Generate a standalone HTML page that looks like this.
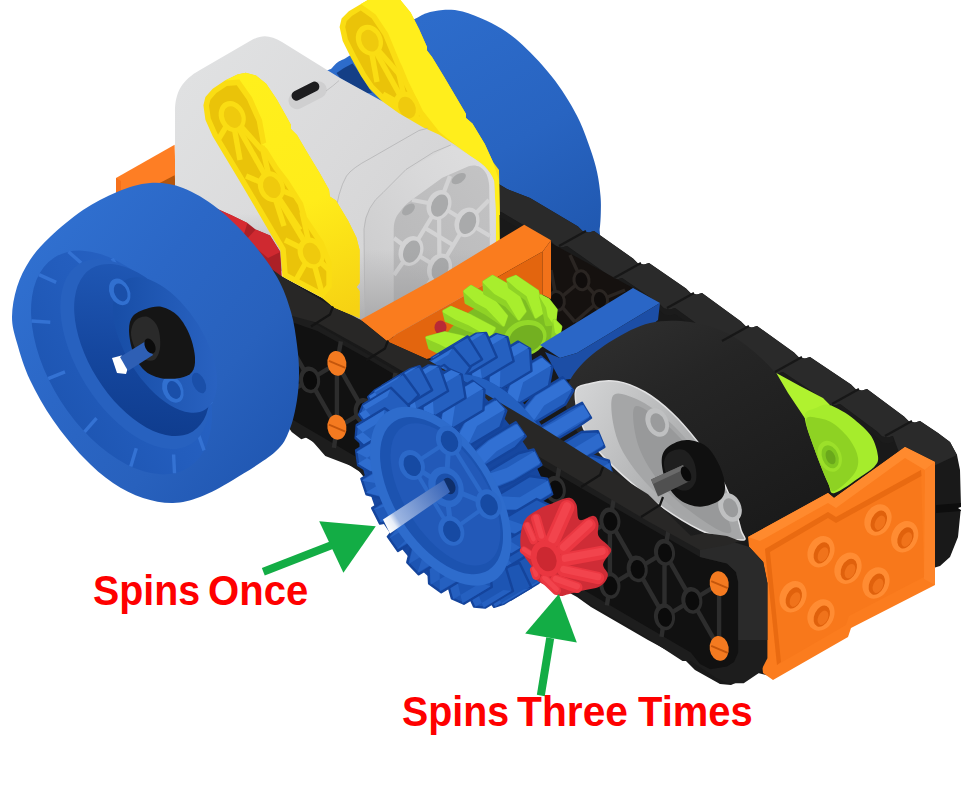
<!DOCTYPE html>
<html><head><meta charset="utf-8"><title>Spins</title>
<style>
html,body{margin:0;padding:0;background:#fff;}
body{width:971px;height:790px;overflow:hidden;position:relative;font-family:"Liberation Sans",sans-serif;}
svg{position:absolute;left:0;top:0;display:block;}
.lbl{position:absolute;margin:0;color:#fe0000;font-weight:bold;font-size:42px;line-height:42px;white-space:nowrap;letter-spacing:0;width:971px;height:42px;}
.lbl span{position:absolute;top:0;display:block;transform-origin:0 0;}
</style></head><body>
<svg width="971" height="790" viewBox="0 0 971 790">
<defs>
<linearGradient id="gbw" gradientUnits="userSpaceOnUse" x1="420" y1="20" x2="560" y2="260"><stop offset="0" stop-color="#2d6ccb"/><stop offset="0.55" stop-color="#2864c1"/><stop offset="1" stop-color="#2058b0"/></linearGradient>
<linearGradient id="gbr" gradientUnits="userSpaceOnUse" x1="200" y1="60" x2="460" y2="260"><stop offset="0" stop-color="#e0e1e2"/><stop offset="0.5" stop-color="#dadadb"/><stop offset="1" stop-color="#d2d2d3"/></linearGradient>
<linearGradient id="gbrsh" gradientUnits="userSpaceOnUse" x1="0" y1="150" x2="0" y2="290"><stop offset="0" stop-color="#9a9a9c00"/><stop offset="0.45" stop-color="#9a9a9c00"/><stop offset="1" stop-color="#8c8c8eaa"/></linearGradient>
<linearGradient id="grimb" gradientUnits="userSpaceOnUse" x1="364" y1="260" x2="496" y2="160"><stop offset="0" stop-color="#cdcdce"/><stop offset="0.6" stop-color="#d9d9da"/><stop offset="1" stop-color="#dededf"/></linearGradient>
<linearGradient id="gface" gradientUnits="userSpaceOnUse" x1="395" y1="260" x2="490" y2="170"><stop offset="0" stop-color="#b9b9ba"/><stop offset="1" stop-color="#c3c3c4"/></linearGradient>
<linearGradient id="gbrsh2" gradientUnits="userSpaceOnUse" x1="0" y1="215" x2="0" y2="330"><stop offset="0" stop-color="#8f8f9100"/><stop offset="0.3" stop-color="#8f8f9100"/><stop offset="1" stop-color="#8a8a8c99"/></linearGradient>
<linearGradient id="gy1" gradientUnits="userSpaceOnUse" x1="240" y1="80" x2="350" y2="310"><stop offset="0" stop-color="#fff01c"/><stop offset="0.55" stop-color="#ffec1a"/><stop offset="1" stop-color="#f6d213"/></linearGradient>
<linearGradient id="gtire" gradientUnits="userSpaceOnUse" x1="640" y1="320" x2="760" y2="540"><stop offset="0" stop-color="#2d2d2d"/><stop offset="0.3" stop-color="#252525"/><stop offset="1" stop-color="#1a1a1a"/></linearGradient>
<linearGradient id="grim" gradientUnits="userSpaceOnUse" x1="575" y1="400" x2="700" y2="470"><stop offset="0" stop-color="#d2d3d4"/><stop offset="0.35" stop-color="#c3c4c5"/><stop offset="1" stop-color="#a6a7a8"/></linearGradient>
<linearGradient id="gside" gradientUnits="userSpaceOnUse" x1="300" y1="330" x2="330" y2="470"><stop offset="0" stop-color="#232323"/><stop offset="1" stop-color="#181818"/></linearGradient>
<linearGradient id="gshaft" gradientUnits="userSpaceOnUse" x1="385" y1="526" x2="447" y2="487"><stop offset="0" stop-color="#ffffff"/><stop offset="0.12" stop-color="#e8eef8"/><stop offset="0.2" stop-color="#9db6e2"/><stop offset="1" stop-color="#3a66b8"/></linearGradient>
<linearGradient id="glw" gradientUnits="userSpaceOnUse" x1="40" y1="230" x2="300" y2="440"><stop offset="0" stop-color="#3070d0"/><stop offset="0.35" stop-color="#2b67c6"/><stop offset="0.7" stop-color="#2861bd"/><stop offset="1" stop-color="#2057b2"/></linearGradient>
<radialGradient id="glwf" gradientUnits="userSpaceOnUse" cx="121.5" cy="362.5" r="150" ><stop offset="0" stop-color="#2f6fd0"/><stop offset="0.78" stop-color="#2f6fd0"/><stop offset="1" stop-color="#2f6fd000"/></radialGradient>
<linearGradient id="gring" gradientUnits="userSpaceOnUse" x1="49" y1="362" x2="194" y2="362"><stop offset="0" stop-color="#1e56b3"/><stop offset="0.5" stop-color="#235dbd"/><stop offset="1" stop-color="#2762c3"/></linearGradient>
<linearGradient id="gcav" gradientUnits="userSpaceOnUse" x1="90" y1="430" x2="200" y2="290"><stop offset="0" stop-color="#0e3b8c"/><stop offset="0.5" stop-color="#15479f"/><stop offset="1" stop-color="#1f57b4"/></linearGradient>
<linearGradient id="ghub" gradientUnits="userSpaceOnUse" x1="120" y1="330" x2="210" y2="380"><stop offset="0" stop-color="#184ea7"/><stop offset="0.45" stop-color="#2058b4"/><stop offset="1" stop-color="#2a63c2"/></linearGradient>
</defs>
<path d="M318,82C315.0,70.0 328.5,71.6 331.8,68.3C335.1,65.0 335.3,64.0 338,62.1C340.7,60.2 340.8,61.1 347.8,56.8C354.8,52.4 369.1,42.2 380,36C390.9,29.8 405.5,23.6 413.2,19.8C420.9,16.0 421.4,14.8 426.3,13.2C431.2,11.5 436.8,10.2 442.8,9.9C448.9,9.6 455.4,9.7 462.6,11.5C469.8,13.3 478.9,17.2 486.1,20.5C493.3,23.8 499.8,27.5 505.9,31.5C511.9,35.5 516.9,39.8 522.4,44.7C527.9,49.7 533.3,55.2 538.8,61.2C544.3,67.2 550.3,74.4 555.3,81C560.2,87.6 564.4,93.9 568.5,100.7C572.6,107.5 576.3,113.9 580,122.1C583.7,130.3 587.7,141.4 590.6,149.8C593.5,158.2 595.6,165.1 597.2,172.8C598.9,180.5 599.9,189.3 600.5,195.9C601.1,202.5 600.9,206.9 600.8,212.4C600.7,217.9 600.3,224.2 599.7,228.8C599.1,233.4 602.0,234.5 597,240C592.0,245.5 586.2,258.3 570,262C553.8,265.7 525.0,269.0 500,262C475.0,255.0 445.0,240.3 420,220C395.0,199.7 367.0,163.0 350,140C333.0,117.0 321.0,94.0 318,82Z" fill="url(#gbw)" />
<polygon points="336.5,73 344,68 352.5,63.5 356,68 364,80 372,93 366,93 340,78" fill="#143f86" />
<polygon points="116,178 174.6,144.8 176,195 116,195" fill="#fe7e24" />
<polygon points="116,178 121,181 121,195 116,195" fill="#f5701a" />
<polygon points="152,187 174.6,175.3 176,190 160,193" fill="#b5560c" />
<polygon points="497,183 507,189 530,198 578,226.5 583,231.5 589,232.5 594,231 633,258.5 638,263.5 644,264.5 649,263 686,288.5 691,293.5 697,294.5 702,293 741,321.5 746,326.5 752,327.5 757,326 794,352.5 799,357.5 805,358.5 810,357 851,384.5 856,389.5 862,390.5 867,389 904,416.5 909,421.5 915,422.5 920,421 938,433 950,442 957,455 960,470 961,507 958,537 950,557 940,566 930,569 770,676 758,673 731,685 720,684 695,670 685,660 648,640 591,607 577,597 500,555 420,510 357,470 310,440 293,430 270,400 268,266.5 282.4,276.8 360,318 420,280 497,240" fill="#191919" />
<polygon points="497,183 507,189 530,198 578,226.5 583,231.5 589,232.5 594,231 633,258.5 638,263.5 644,264.5 649,263 686,288.5 691,293.5 697,294.5 702,293 741,321.5 746,326.5 752,327.5 757,326 794,352.5 799,357.5 805,358.5 810,357 851,384.5 856,389.5 862,390.5 867,389 904,416.5 909,421.5 915,422.5 920,421 938,433 950,442 957,455 925,470 900,455 893,436 888,437.5 882,436.5 877,431.5 840,404 835,405.5 829,404.5 824,399.5 783,372 778,373.5 772,372.5 767,367.5 730,341 725,342.5 719,341.5 714,336.5 675,308 670,309.5 664,308.5 659,303.5 622,278 617,279.5 611,278.5 606,273.5 567,246 562,247.5 556,246.5 551,241.5 503,213 480,204 470,198" fill="#2a2a2a" />
<polygon points="893,436 888,437.5 882,436.5 877,431.5 840,404 835,405.5 829,404.5 824,399.5 783,372 778,373.5 772,372.5 767,367.5 730,341 725,342.5 719,341.5 714,336.5 675,308 670,309.5 664,308.5 659,303.5 622,278 617,279.5 611,278.5 606,273.5 567,246 562,247.5 556,246.5 551,241.5 503,213 480,204 470,198 470,204 480,210 503,219 551,247.5 556,252.5 562,253.5 567,252 606,279.5 611,284.5 617,285.5 622,284 659,309.5 664,314.5 670,315.5 675,314 714,342.5 719,347.5 725,348.5 730,347 767,373.5 772,378.5 778,379.5 783,378 824,405.5 829,410.5 835,411.5 840,410 877,437.5 882,442.5 888,443.5 893,442" fill="#1b1b1b" />
<polygon points="551,243 633,288 553,337 551,299" fill="#15110f" />
<path d="M556.8,300.9 L581.5,280.3" fill="none" stroke="#2a2522" stroke-width="3.5"/>
<path d="M581.5,280.3 L600,300" fill="none" stroke="#2a2522" stroke-width="3.5"/>
<path d="M556.8,300.9 L575,322" fill="none" stroke="#2a2522" stroke-width="3.5"/>
<path d="M581.5,280.3 L570,255" fill="none" stroke="#2a2522" stroke-width="3.5"/>
<path d="M600,300 L575,322" fill="none" stroke="#2a2522" stroke-width="3.5"/>
<path d="M600,300 L625,290" fill="none" stroke="#2a2522" stroke-width="3.5"/>
<path d="M556.8,300.9 L551,270" fill="none" stroke="#2a2522" stroke-width="3.5"/>
<ellipse cx="581.5" cy="280.3" rx="9" ry="11" transform="rotate(-10 581.5 280.3)" fill="#2a2522" />
<ellipse cx="581.5" cy="280.3" rx="6" ry="8" transform="rotate(-10 581.5 280.3)" fill="#100d0c" />
<ellipse cx="556.8" cy="300.9" rx="9" ry="11" transform="rotate(-10 556.8 300.9)" fill="#2a2522" />
<ellipse cx="556.8" cy="300.9" rx="6" ry="8" transform="rotate(-10 556.8 300.9)" fill="#100d0c" />
<ellipse cx="600" cy="300" rx="9" ry="11" transform="rotate(-10 600 300)" fill="#2a2522" />
<ellipse cx="600" cy="300" rx="6" ry="8" transform="rotate(-10 600 300)" fill="#100d0c" />
<polygon points="339.6,27 342.7,41 351,57.7 361,76 369.4,88.6 381.8,101 390,112 435,140 470,160 497,215 500,215 499,170 493,162 484.8,144 472.4,123.6 466,118 466,114 456,97 443.6,76 432,57 427,50.5 427,47 419,29 410.6,12.4 402,2 398,-3 373,-3 361,4 348.8,11.3 341.6,18.5" fill="#fadd13" />
<polygon points="361,4 373,-3 398,-3 402,2 410.6,12.4 419,29 427,47 427,50.5 432,57 443.6,76 456,97 466,114 466,118 472.4,123.6 484.8,144 493,162 499,180 500,250 496,250 494,185 480,165 439.5,132 423,111 408.6,82 402,66 400,62 388,33 375.6,14.4" fill="#ffee1c" />
<polygon points="345.241,27.0372 347.925,39.1543 355.878,55.1564 365.71,73.1504 373.674,85.096 385.185,96.6068 420.05,116.923 418.225,113.729 418.074,113.446 403.674,84.4461 403.516,84.0973 396.992,68.2815 395.081,64.4597 394.918,64.1029 383.124,35.6017 371.585,18.2927 360.738,10.5661 352.208,15.6702 346.595,21.2827" fill="#eac309" />
<path d="M369.4,40.2 L406.5,107" fill="none" stroke="#fadd13" stroke-width="5.4"/>
<path d="M369.4,40.2 L377,82" fill="none" stroke="#fadd13" stroke-width="5.4"/>
<path d="M369.4,40.2 L399,74" fill="none" stroke="#fadd13" stroke-width="5.4"/>
<path d="M406.5,107 L383,94" fill="none" stroke="#fadd13" stroke-width="5.4"/>
<path d="M406.5,107 L398,70" fill="none" stroke="#fadd13" stroke-width="5.4"/>
<path d="M406.5,107 L423,124" fill="none" stroke="#fadd13" stroke-width="5.4"/>
<path d="M406.5,107 L392,112" fill="none" stroke="#fadd13" stroke-width="5.4"/>
<ellipse cx="369.4" cy="40.2" rx="13" ry="16" transform="rotate(-25 369.4 40.2)" fill="#fadd13" />
<ellipse cx="369.9" cy="40.7" rx="8.3" ry="11.3" transform="rotate(-25 369.9 40.7)" fill="#efca0d" />
<ellipse cx="406.5" cy="107" rx="13" ry="16" transform="rotate(-25 406.5 107)" fill="#fadd13" />
<ellipse cx="407" cy="107.5" rx="8.3" ry="11.3" transform="rotate(-25 407 107.5)" fill="#efca0d" />
<path d="M175,210 L175,112 C175,92 182,80 200,70 L250,41 C262,34 270,35 282,42 L340,78 L381.8,101 L398.9,113.2 L423.4,127.6 L439.3,134.8 L455.1,144.9 L471,156.5 C480,162 490,169 494.1,181 L495.8,212.4 L496,300 L393,335 L360,320 L280,270 Z" fill="url(#gbr)" />
<polygon points="175,150 300,150 300,285 280,270 175,210" fill="url(#gbrsh)" />
<path d="M364.8,320 L364,228.8 C364.5,218 366,214 369.8,209 C373,203 377,197 383,192.6 L419.2,163 L450.8,145 C460,149 466,153 471,156.5 C480,162 490,169 494.1,181 L495.8,212.4 L496,300 L400,340 Z" fill="url(#grimb)" />
<path d="M393.7,305 L393.7,228.8 C394,221 396,216 399.4,212.4 C403,207 407,203 412.6,199.2 L442.3,177.8 L468.6,166.2 C473,165 477,165.5 480,167 C483,169 485,171 486.7,174.5 C488,178 489,182 489.2,186 L490,262 L443,290 Z" fill="url(#gface)" />
<path d="M439,205 L467,222.3" fill="none" stroke="#d3d3d4" stroke-width="4.2"/>
<path d="M439,205 L411,251" fill="none" stroke="#d3d3d4" stroke-width="4.2"/>
<path d="M467,222.3 L439.5,268.3" fill="none" stroke="#d3d3d4" stroke-width="4.2"/>
<path d="M411,251 L439.5,268.3" fill="none" stroke="#d3d3d4" stroke-width="4.2"/>
<path d="M439,205 L412,200" fill="none" stroke="#d3d3d4" stroke-width="4.2"/>
<path d="M439,205 L450,176" fill="none" stroke="#d3d3d4" stroke-width="4.2"/>
<path d="M467,222.3 L489,200" fill="none" stroke="#d3d3d4" stroke-width="4.2"/>
<path d="M467,222.3 L490,236" fill="none" stroke="#d3d3d4" stroke-width="4.2"/>
<path d="M411,251 L394,238" fill="none" stroke="#d3d3d4" stroke-width="4.2"/>
<path d="M411,251 L394,275" fill="none" stroke="#d3d3d4" stroke-width="4.2"/>
<path d="M439.5,268.3 L455,284" fill="none" stroke="#d3d3d4" stroke-width="4.2"/>
<path d="M439.5,268.3 L420,296" fill="none" stroke="#d3d3d4" stroke-width="4.2"/>
<path d="M439,205 L439.5,268.3" fill="none" stroke="#d3d3d4" stroke-width="4.2"/>
<path d="M425,228 L453,245" fill="none" stroke="#d3d3d4" stroke-width="4.2"/>
<ellipse cx="439" cy="205" rx="12" ry="15.3" transform="rotate(22 439 205)" fill="#d3d3d4" />
<ellipse cx="439.6" cy="205.6" rx="8" ry="11.6" transform="rotate(22 439.6 205.6)" fill="#a9aaab" />
<ellipse cx="467" cy="222.3" rx="12" ry="15.3" transform="rotate(22 467 222.3)" fill="#d3d3d4" />
<ellipse cx="467.6" cy="222.9" rx="8" ry="11.6" transform="rotate(22 467.6 222.9)" fill="#a9aaab" />
<ellipse cx="411" cy="251" rx="12" ry="15.3" transform="rotate(22 411 251)" fill="#d3d3d4" />
<ellipse cx="411.6" cy="251.6" rx="8" ry="11.6" transform="rotate(22 411.6 251.6)" fill="#a9aaab" />
<ellipse cx="439.5" cy="268.3" rx="12" ry="15.3" transform="rotate(22 439.5 268.3)" fill="#d3d3d4" />
<ellipse cx="440.1" cy="268.9" rx="8" ry="11.6" transform="rotate(22 440.1 268.9)" fill="#a9aaab" />
<ellipse cx="458.7" cy="178.6" rx="8" ry="4.5" transform="rotate(-32 458.7 178.6)" fill="#a6a7a8" />
<ellipse cx="408.5" cy="209.5" rx="7.5" ry="4.5" transform="rotate(-40 408.5 209.5)" fill="#a6a7a8" />
<polygon points="330,215 497,215 497,300 400,340 360,320 330,305" fill="url(#gbrsh2)" />
<g transform="rotate(-27 306.4 93)"><rect x="286" y="87" width="41" height="17" rx="8.5" fill="#cfcfd0"/><rect x="291.4" y="85.9" width="30" height="10" rx="5" fill="#1d1d1f"/></g>
<path d="M326,91 Q333,86 339,80.6" fill="none" stroke="#b9b9ba" stroke-width="0.8"/>
<path d="M427.7,128.3 L419,130.5 L398.9,142 L370,158.6 Q352,168 346.5,176 Q338,190 334,222 L334,262" fill="none" stroke="#b4b4b5" stroke-width="0.8"/>
<path d="M450.8,145 L433.5,152.2 L406,169.5 L383,192.6 Q366,206 364,228.8 L364.8,310" fill="none" stroke="#b4b4b5" stroke-width="0.8"/>
<polygon points="205,203 212.4,206.8 231,215 247.4,223 255.6,229.4 270,235.6 280.3,252 282,280 260,290 205,260" fill="#ab2027" />
<polygon points="205,203 212.4,206.8 231,215 247.4,223 244,234 222,224 205,215" fill="#d62a31" />
<polygon points="255.6,229.4 270,235.6 280.3,252 268,258 246,240" fill="#cf2930" />
<polygon points="203.4,105.3 205.4,97 212.7,88.8 225,80.6 237.4,74.4 245.6,72.8 256,75.4 266.2,83.7 276.5,99 284.7,113.5 291,125 291,129 297,135 307.4,152.7 319.8,173.3 329,189.8 329.8,196.5 336,200.6 348.3,221 356.5,237.7 359.6,250 359.6,283 356.5,287 359.6,291 359.6,318 334,307.7 321.5,297.4 282.4,276.8 280.3,250 268,229.4 253.6,204.7 239,180 225,156.8 212.7,136.2 205.4,119.7" fill="#fadd13" />
<polygon points="225,80.6 237.4,74.4 245.6,72.8 256,75.4 266.2,83.7 276.5,99 284.7,113.5 291,125 291,129 297,135 307.4,152.7 319.8,173.3 329,189.8 329.8,196.5 336,200.6 348.3,221 356.5,237.7 359.6,250 359.6,283 356.5,287 359.6,291 359.6,318 334,307.7 323.6,297.4 331.8,287 331.8,262.4 323.6,241.8 307,217 303,202.7 288.6,180 278.6,167 267,148.6 262,144.4 266.2,142.4 262,119.7 251.8,97 239.4,79.6" fill="url(#gy1)" />
<polygon points="208.991,105.575 210.742,118.18 217.594,133.668 229.716,153.969 243.709,177.158 243.735,177.201 258.335,201.901 258.351,201.93 272.737,226.605 285.022,247.18 285.261,247.626 285.458,248.092 285.612,248.574 285.721,249.068 285.783,249.57 287.646,273.347 321.498,291.182 326.3,285.093 326.3,263.454 318.705,244.375 302.429,220.059 302.132,219.56 301.889,219.032 301.703,218.482 297.922,204.962 284.089,183.156 274.241,170.353 273.947,169.933 262.347,151.533 262.057,151.012 261.825,150.462 261.654,149.891 261.545,149.304 260.764,143.253 256.712,121.351 247.006,99.7496 236.708,85.3002 226.837,85.9857 216.338,92.9846 210.424,99.628" fill="#eac309" />
<path d="M232.2,116.6 L271.4,186.7" fill="none" stroke="#fadd13" stroke-width="5.4"/>
<path d="M271.4,186.7 L311.2,253" fill="none" stroke="#fadd13" stroke-width="5.4"/>
<path d="M232.2,116.6 L240,160" fill="none" stroke="#fadd13" stroke-width="5.4"/>
<path d="M232.2,116.6 L262,150" fill="none" stroke="#fadd13" stroke-width="5.4"/>
<path d="M271.4,186.7 L246,176" fill="none" stroke="#fadd13" stroke-width="5.4"/>
<path d="M271.4,186.7 L262,146" fill="none" stroke="#fadd13" stroke-width="5.4"/>
<path d="M271.4,186.7 L296,196" fill="none" stroke="#fadd13" stroke-width="5.4"/>
<path d="M271.4,186.7 L284,226" fill="none" stroke="#fadd13" stroke-width="5.4"/>
<path d="M311.2,253 L285,240" fill="none" stroke="#fadd13" stroke-width="5.4"/>
<path d="M311.2,253 L302,212" fill="none" stroke="#fadd13" stroke-width="5.4"/>
<path d="M311.2,253 L329,270" fill="none" stroke="#fadd13" stroke-width="5.4"/>
<path d="M311.2,253 L322,293" fill="none" stroke="#fadd13" stroke-width="5.4"/>
<path d="M311.2,253 L296,280" fill="none" stroke="#fadd13" stroke-width="5.4"/>
<path d="M271.4,186.7 L300,230" fill="none" stroke="#fadd13" stroke-width="5.4"/>
<path d="M232.2,116.6 L218,140" fill="none" stroke="#fadd13" stroke-width="5.4"/>
<ellipse cx="232.2" cy="116.6" rx="13" ry="16" transform="rotate(-25 232.2 116.6)" fill="#fadd13" />
<ellipse cx="232.7" cy="117.1" rx="8.3" ry="11.3" transform="rotate(-25 232.7 117.1)" fill="#efca0d" />
<ellipse cx="271.4" cy="186.7" rx="13" ry="16" transform="rotate(-25 271.4 186.7)" fill="#fadd13" />
<ellipse cx="271.9" cy="187.2" rx="8.3" ry="11.3" transform="rotate(-25 271.9 187.2)" fill="#efca0d" />
<ellipse cx="311.2" cy="253" rx="13" ry="16" transform="rotate(-25 311.2 253)" fill="#fadd13" />
<ellipse cx="311.7" cy="253.5" rx="8.3" ry="11.3" transform="rotate(-25 311.7 253.5)" fill="#efca0d" />
<polygon points="360.6,319.7 439,276.5 524.2,224.7 551,240.2 542.7,251.5 396.5,334 387.4,341.4" fill="#fa7c1e" />
<polygon points="387.4,341.4 396.5,334 542.7,251.5 542.7,300 500,340 426.5,358.9" fill="#e3650e" />
<polygon points="542.7,251.5 551,240.2 551,299 542.7,294.7" fill="#f2721a" />
<ellipse cx="440.5" cy="327.5" rx="6" ry="7" transform="rotate(0 440.5 327.5)" fill="#b82a35" />
<path d="M440,347C439.5,342.0 446.7,333.2 452,327C457.3,320.8 465.2,314.7 472,310C478.8,305.3 485.8,301.5 493,299C500.2,296.5 508.0,294.5 515,295C522.0,295.5 529.5,298.7 535,302C540.5,305.3 544.3,310.3 548,315C551.7,319.7 556.2,325.8 557,330C557.8,334.2 555.8,337.0 553,340C550.2,343.0 545.5,345.3 540,348C534.5,350.7 528.3,354.0 520,356C511.7,358.0 500.8,359.8 490,360C479.2,360.2 463.3,359.2 455,357C446.7,354.8 440.5,352.0 440,347Z" fill="#7dbd23" />
<polygon points="427,337.6 444.7,333 458.6,336 475,340 470,349 440,353 430,348" fill="#8fd326" stroke="#8fd326" stroke-width="3.5" stroke-linejoin="round"/>
<polygon points="427,337.6 444.7,333 458.6,336 475,340 470,349 445.698,346.217 440.198,343.467" fill="#a8ee2d" stroke="#a8ee2d" stroke-width="2.5" stroke-linejoin="round"/>
<polygon points="444,311.3 450.9,307.5 471,316 494.2,328.3 490,336 466.3,329 446.3,320.5" fill="#8fd326" stroke="#8fd326" stroke-width="3.5" stroke-linejoin="round"/>
<polygon points="444,311.3 450.9,307.5 471,316 494.2,328.3 490,336 467.71,323.503 456.71,318.828" fill="#a8ee2d" stroke="#a8ee2d" stroke-width="2.5" stroke-linejoin="round"/>
<polygon points="464.8,291.3 471,286.6 492.6,299 506.5,316 503.4,325 486.4,313.5 466.3,302.5" fill="#8fd326" stroke="#8fd326" stroke-width="3.5" stroke-linejoin="round"/>
<polygon points="464.8,291.3 471,286.6 492.6,299 506.5,316 503.4,325 487.013,307.604 475.958,301.554" fill="#a8ee2d" stroke="#a8ee2d" stroke-width="2.5" stroke-linejoin="round"/>
<polygon points="484.1,282 492.6,276.6 515.8,289.7 525,311.3 518.9,319 506.5,305.6 484.9,293.3" fill="#8fd326" stroke="#8fd326" stroke-width="3.5" stroke-linejoin="round"/>
<polygon points="484.1,282 492.6,276.6 515.8,289.7 525,311.3 518.9,319 506.862,299.634 494.982,292.869" fill="#a8ee2d" stroke="#a8ee2d" stroke-width="2.5" stroke-linejoin="round"/>
<polygon points="508,279.7 515.8,276.6 537.4,291.3 542,312.9 535.9,317 526.6,299 509.6,287" fill="#8fd326" stroke="#8fd326" stroke-width="3.5" stroke-linejoin="round"/>
<polygon points="508,279.7 515.8,276.6 537.4,291.3 542,312.9 535.9,317 527.399,295.104 518.049,288.504" fill="#a8ee2d" stroke="#a8ee2d" stroke-width="2.5" stroke-linejoin="round"/>
<polygon points="540.5,295.9 548.2,299.8 556,309.8 554.4,323.7 546.7,324.5 543.6,308" fill="#8fd326" stroke="#8fd326" stroke-width="3.5" stroke-linejoin="round"/>
<polygon points="540.5,295.9 548.2,299.8 556,309.8 554.4,323.7 548.89,316.103 547.185,307.028" fill="#a8ee2d" stroke="#a8ee2d" stroke-width="2.5" stroke-linejoin="round"/>
<polygon points="554.4,320.6 560.6,326.8 559,334.5 552.9,337.6" fill="#8fd326" stroke="#8fd326" stroke-width="3.5" stroke-linejoin="round"/>
<polygon points="554.4,320.6 560.6,326.8 559,334.5 556.121,332.124" fill="#a8ee2d" stroke="#a8ee2d" stroke-width="2.5" stroke-linejoin="round"/>
<ellipse cx="525" cy="338" rx="22" ry="17.5" transform="rotate(-20 525 338)" fill="#93d829" />
<ellipse cx="526" cy="339" rx="17.5" ry="13.5" transform="rotate(-20 526 339)" fill="#73b021" />
<polygon points="540,345 553,337 633,288 660,303 577,353 560,358" fill="#2a66c6" />
<polygon points="577,353 660,303 658,320 585,378 560,380 545,352 560,358" fill="#1c4ea6" />
<path d="M567,387C569.7,379.2 575.3,370.8 583,363C590.7,355.2 601.8,346.7 613,340C624.2,333.3 637.2,326.0 650,323C662.8,320.0 677.2,320.3 690,322C702.8,323.7 715.3,327.2 727,333C738.7,338.8 750.0,348.0 760,357C770.0,366.0 779.2,376.5 787,387C794.8,397.5 801.5,409.0 807,420C812.5,431.0 816.7,443.0 820,453C823.3,463.0 826.5,472.7 827,480C827.5,487.3 829.2,491.0 823,497C816.8,503.0 801.0,510.0 790,516C779.0,522.0 764.8,529.3 757,533C749.2,536.7 752.5,536.8 743,538C733.5,539.2 717.2,546.3 700,540C682.8,533.7 658.3,515.0 640,500C621.7,485.0 602.2,465.0 590,450C577.8,435.0 570.8,420.5 567,410C563.2,399.5 564.3,394.8 567,387Z" fill="url(#gtire)" />
<path d="M575.2,394C575.3,384.6 583.3,385.6 590.4,383.5C597.5,381.4 608.6,380.0 617.7,381.4C626.8,382.8 635.9,386.7 645,392C654.1,397.3 663.8,405.1 672.4,413.2C681.0,421.3 689.1,431.0 696.7,440.6C704.3,450.2 711.8,460.4 717.9,471C724.0,481.6 729.2,494.6 733.1,504.4C737.0,514.2 739.5,524.1 741,530C742.5,535.9 748.8,540.0 742,540C735.2,540.0 717.0,538.3 700,530C683.0,521.7 658.3,505.0 640,490C621.7,475.0 600.8,456.0 590,440C579.2,424.0 575.1,403.4 575.2,394Z" fill="url(#grim)" stroke="#e2e2e3" stroke-width="1.5"/>
<path d="M612,398C614.3,390.0 625.3,394.8 634,398C642.7,401.2 654.3,409.0 664,417C673.7,425.0 683.8,436.0 692,446C700.2,456.0 706.8,466.3 713,477C719.2,487.7 724.8,500.2 729,510C733.2,519.8 742.0,532.8 738,536C734.0,539.2 718.8,536.3 705,529C691.2,521.7 669.2,505.8 655,492C640.8,478.2 627.2,461.7 620,446C612.8,430.3 609.7,406.0 612,398Z" fill="#a5a6a7" />
<path d="M634,408C636.5,402.3 647.0,410.7 655,416C663.0,421.3 673.5,430.3 682,440C690.5,449.7 699.3,463.0 706,474C712.7,485.0 717.8,496.3 722,506C726.2,515.7 733.0,528.8 731,532C729.0,535.2 720.5,531.7 710,525C699.5,518.3 679.7,504.5 668,492C656.3,479.5 645.7,464.0 640,450C634.3,436.0 631.5,413.7 634,408Z" fill="#98999a" />
<ellipse cx="657.2" cy="422.4" rx="11" ry="15" transform="rotate(-25 657.2 422.4)" fill="#bfc0c1" />
<ellipse cx="657.8" cy="422.8" rx="6.8" ry="10" transform="rotate(-25 657.8 422.8)" fill="#9a9b9c" />
<ellipse cx="730" cy="507.4" rx="11" ry="15" transform="rotate(-25 730 507.4)" fill="#bfc0c1" />
<ellipse cx="730.6" cy="507.8" rx="6.8" ry="10" transform="rotate(-25 730.6 507.8)" fill="#9a9b9c" />
<path d="M661.7,460C662.0,453.9 664.1,450.0 668.3,446.7C672.5,443.4 680.3,440.0 686.7,440C693.1,440.0 701.2,442.2 706.7,446.7C712.2,451.1 717.0,460.0 720,466.7C723.0,473.4 725.0,481.1 725,486.7C725.0,492.2 724.2,496.7 720,500C715.8,503.3 706.7,506.7 700,506.7C693.3,506.7 685.5,503.9 680,500C674.5,496.1 669.8,490.0 666.7,483.3C663.7,476.6 661.4,466.1 661.7,460Z" fill="#101010" />
<path d="M664,462C664.5,458.0 666.7,454.0 670,452C673.3,450.0 680.0,448.3 684,450C688.0,451.7 692.0,457.0 694,462C696.0,467.0 697.0,475.3 696,480C695.0,484.7 691.3,488.7 688,490C684.7,491.3 679.5,490.3 676,488C672.5,485.7 669.0,480.3 667,476C665.0,471.7 663.5,466.0 664,462Z" fill="#1f1f1f" />
<polygon points="651,479.5 683,465 690,481 658,496.5" fill="#505050" />
<polygon points="651,479.5 683,465 685,469 653,484" fill="#6a6a6a" />
<ellipse cx="686" cy="474" rx="4.5" ry="8" transform="rotate(-25 686 474)" fill="#0a0a0a" />
<polygon points="776.3,373 800,386 823,398 830,405 815,416 804.7,418 788,393" fill="#b0f22f" />
<path d="M804.7,416.3C804.9,409.4 812.1,409.9 816,408C819.9,406.1 823.7,404.2 828,404.7C832.3,405.2 837.5,408.5 842,411C846.5,413.5 849.8,415.5 854.7,419.7C859.6,423.9 867.4,430.2 871.3,436.3C875.2,442.4 877.4,451.3 878,456.3C878.6,461.3 877.5,463.0 874.7,466.3C871.9,469.6 868.0,471.9 861.3,476.3C854.6,480.8 840.2,491.9 834.7,493C829.2,494.1 831.3,490.2 828,483C824.7,475.8 818.6,460.8 814.7,449.7C810.8,438.6 804.5,423.2 804.7,416.3Z" fill="#a6ec2c" />
<path d="M806,420C806.5,414.7 813.3,417.3 818,418C822.7,418.7 828.7,420.3 834,424C839.3,427.7 846.0,434.3 850,440C854.0,445.7 857.3,452.3 858,458C858.7,463.7 857.9,468.5 854,474C850.1,479.5 839.0,489.5 834.7,491C830.4,492.5 831.3,489.9 828,483C824.7,476.1 818.4,460.2 814.7,449.7C811.0,439.2 805.5,425.3 806,420Z" fill="#8ed223" />
<ellipse cx="829.7" cy="456.3" rx="11.5" ry="16" transform="rotate(-22 829.7 456.3)" fill="#9ce02a" />
<ellipse cx="830.2" cy="456.8" rx="8" ry="12" transform="rotate(-22 830.2 456.8)" fill="#80c620" />
<ellipse cx="830.6" cy="457.2" rx="4.5" ry="7.5" transform="rotate(-22 830.6 457.2)" fill="#6aa81b" />
<path d="M586,231 L559,246" fill="none" stroke="#171717" stroke-width="2.2"/>
<path d="M641,263 L614,278" fill="none" stroke="#171717" stroke-width="2.2"/>
<path d="M694,293 L667,308" fill="none" stroke="#171717" stroke-width="2.2"/>
<path d="M749,326 L722,341" fill="none" stroke="#171717" stroke-width="2.2"/>
<path d="M802,357 L775,372" fill="none" stroke="#171717" stroke-width="2.2"/>
<path d="M859,389 L832,404" fill="none" stroke="#171717" stroke-width="2.2"/>
<path d="M912,421 L885,436" fill="none" stroke="#171717" stroke-width="2.2"/>
<g transform="rotate(-32.2 497.7 463.7)"><ellipse cx="497.7" cy="463.7" rx="58" ry="104" fill="#1647a0"/></g>
<polygon points="582.041,402.833 568.8,409.804 538.746,427.862 548.613,444.283 578.667,426.225 591.038,417.806" fill="#235dbd" stroke="#14449c" stroke-width="2.4" stroke-linejoin="round"/>
<polygon points="547.479,442.177 562.071,432.667 589.978,415.899 583.228,404.665 555.321,421.433 540.074,429.852" fill="#306ed1" />
<polygon points="597.864,431.287 581.559,431.937 551.505,449.995 558.696,467.264 576.513,463.8 604.42,447.032" fill="#215bba" stroke="#14449c" stroke-width="2.4" stroke-linejoin="round"/>
<polygon points="557.92,465.099 575.773,461.827 603.68,445.059 598.761,433.246 570.854,450.014 552.523,452.139" fill="#2d6acc" />
<polygon points="562.519,377.297 534.612,394.065 523.19,408.17 535.06,422.627 565.114,404.569 573.343,390.478" fill="#245fbf" stroke="#14449c" stroke-width="2.4" stroke-linejoin="round"/>
<polygon points="533.646,420.722 544.128,405.534 572.035,388.766 563.914,378.877 536.007,395.645 524.737,409.872" fill="#3271d4" />
<polygon points="540.628,356.418 512.721,373.187 505.896,392.263 518.962,403.769 549.015,385.711 552.542,366.909" fill="#2560c0" stroke="#14449c" stroke-width="2.4" stroke-linejoin="round"/>
<polygon points="517.363,402.195 523.167,382.277 551.074,365.509 542.136,357.638 514.229,374.406 507.557,393.56" fill="#3373d6" />
<polygon points="590.652,455.005 560.598,473.063 564.623,490.001 584.671,492.93 612.578,476.162 608.908,460.718" fill="#2059b8" stroke="#14449c" stroke-width="2.4" stroke-linejoin="round"/>
<polygon points="564.257,487.926 584.301,491.027 612.209,474.258 609.455,462.671 581.548,479.44 561.237,475.213" fill="#2a67c8" />
<polygon points="517.86,341.62 489.953,358.389 488.044,381.225 501.414,388.995 531.468,370.937 530.051,348.705" fill="#2560c0" stroke="#14449c" stroke-width="2.4" stroke-linejoin="round"/>
<polygon points="499.74,387.86 500.617,364.481 528.524,347.713 519.378,342.397 491.471,359.165 489.705,382.028" fill="#3373d6" />
<polygon points="595.458,477.434 565.404,495.492 565.988,510.946 587.047,519.981 614.954,503.213 614.422,489.123" fill="#1f58b6" stroke="#14449c" stroke-width="2.4" stroke-linejoin="round"/>
<polygon points="566.059,509.101 587.074,518.276 614.981,501.508 614.582,490.936 586.675,507.705 565.62,497.503" fill="#2865c5" />
<polygon points="595.65,497.697 565.596,515.755 562.7,528.671 583.482,543.108 611.389,526.34 614.029,514.564" fill="#1e57b5" stroke="#14449c" stroke-width="2.4" stroke-linejoin="round"/>
<polygon points="563.201,527.183 583.903,541.718 611.81,524.95 613.791,516.115 585.884,532.883 565.375,517.49" fill="#2763c4" />
<polygon points="495.766,333.911 467.859,350.679 470.85,375.806 483.613,379.313 513.667,361.255 507.403,337.108" fill="#2560c0" stroke="#14449c" stroke-width="2.4" stroke-linejoin="round"/>
<polygon points="481.978,378.694 478.015,353.359 505.922,336.591 497.191,334.192 469.284,350.96 472.399,376.062" fill="#3373d6" />
<polygon points="486.142,332.907 475.851,333.816 447.944,350.584 455.486,376.378 466.772,375.381 496.826,357.323" fill="#2560c0" stroke="#14449c" stroke-width="2.4" stroke-linejoin="round"/>
<polygon points="465.287,375.32 456.9,349.668 484.807,332.9 477.086,333.582 449.179,350.35 456.816,376.068" fill="#3272d5" />
<polygon points="591.215,514.413 561.161,532.471 554.982,541.968 574.216,560.736 602.123,543.968 607.757,535.308" fill="#1e56b4" stroke="#14449c" stroke-width="2.4" stroke-linejoin="round"/>
<polygon points="555.88,540.939 575.003,559.756 602.91,542.988 607.137,536.491 579.23,553.259 560.518,533.81" fill="#2762c2" />
<polygon points="467.718,336.389 459.474,341.342 431.567,358.11 442.998,382.9 452.039,377.468 482.093,359.41" fill="#245fbf" stroke="#14449c" stroke-width="2.4" stroke-linejoin="round"/>
<polygon points="450.806,377.97 438.712,353.661 466.619,336.893 460.435,340.609 432.528,357.377 444.02,382.047" fill="#3272d4" />
<polygon points="582.456,526.441 573.415,531.874 543.361,549.932 559.883,571.663 587.79,554.895 596.033,549.942" fill="#1e56b4" stroke="#14449c" stroke-width="2.4" stroke-linejoin="round"/>
<polygon points="544.594,549.43 560.981,571.16 588.888,554.391 595.073,550.675 567.166,567.443 551.38,545.353" fill="#2661c2" />
<polygon points="453.384,347.316 425.477,364.084 419.843,372.744 434.239,394.929 464.292,376.871 470.471,367.374" fill="#245fbf" stroke="#14449c" stroke-width="2.4" stroke-linejoin="round"/>
<polygon points="439.52,386.461 424.691,365.064 452.598,348.296 448.371,354.793 420.464,371.562 434.882,393.59" fill="#3171d4" />
<polygon points="569.968,532.964 558.681,533.961 528.628,552.019 541.458,575.145 551.749,574.236 579.656,557.468" fill="#1d55b3" stroke="#14449c" stroke-width="2.4" stroke-linejoin="round"/>
<polygon points="530.113,552.08 542.793,575.152 570.7,558.384 578.421,557.702 550.514,574.47 538.584,551.332" fill="#2661c1" />
<polygon points="444.119,364.944 416.212,381.712 413.571,393.488 429.804,411.645 459.858,393.587 462.754,380.671" fill="#245ebe" stroke="#14449c" stroke-width="2.4" stroke-linejoin="round"/>
<polygon points="432.199,400.217 415.791,383.102 443.698,366.334 441.717,375.169 413.81,391.937 430.025,409.91" fill="#3170d2" />
<polygon points="541.841,530.029 511.787,548.087 520.197,570.944 531.835,574.141 559.742,557.373 554.604,533.535" fill="#1d55b3" stroke="#14449c" stroke-width="2.4" stroke-linejoin="round"/>
<polygon points="513.422,548.706 521.679,571.461 549.586,554.693 558.317,557.092 530.41,573.86 523.001,551.338" fill="#2560c0" />
<polygon points="440.553,388.071 412.646,404.839 413.179,418.929 429.996,431.908 460.05,413.849 459.466,398.396" fill="#235dbd" stroke="#14449c" stroke-width="2.4" stroke-linejoin="round"/>
<polygon points="429.341,418.299 412.619,406.544 440.526,389.776 440.926,400.347 413.019,417.116 429.78,429.897" fill="#306ed1" />
<polygon points="524.04,520.347 493.986,538.405 497.55,559.347 509.741,566.432 537.648,549.664 537.41,528.117" fill="#1d55b3" stroke="#14449c" stroke-width="2.4" stroke-linejoin="round"/>
<polygon points="495.66,539.54 499.076,560.339 526.983,543.571 536.129,548.887 508.222,565.655 505.695,545.372" fill="#2560c0" />
<polygon points="442.93,415.122 415.023,431.89 418.693,447.334 434.802,454.337 464.856,436.279 460.831,419.341" fill="#225cbb" stroke="#14449c" stroke-width="2.4" stroke-linejoin="round"/>
<polygon points="431.143,439.474 415.392,433.794 443.299,417.026 446.052,428.612 418.145,445.381 434.163,452.187" fill="#2e6cce" />
<polygon points="506.492,505.573 476.438,523.631 475.059,541.143 486.972,551.634 514.879,534.865 519.558,517.078" fill="#1d55b3" stroke="#14449c" stroke-width="2.4" stroke-linejoin="round"/>
<polygon points="478.037,525.205 476.526,542.543 504.433,525.775 513.371,533.646 485.464,550.414 487.843,533.84" fill="#2560c0" />
<polygon points="466.757,442.078 451.087,444.252 423.18,461.02 429.737,476.765 443.895,477.405 473.948,459.346" fill="#215ab9" stroke="#14449c" stroke-width="2.4" stroke-linejoin="round"/>
<polygon points="437.48,462.301 423.92,462.993 451.827,446.225 456.746,458.038 428.839,474.806 442.877,475.261" fill="#2b69ca" />
<polygon points="490.393,486.715 460.34,504.773 454.257,517.574 465.081,530.755 492.988,513.987 502.264,501.171" fill="#1e56b4" stroke="#14449c" stroke-width="2.4" stroke-linejoin="round"/>
<polygon points="461.754,506.678 455.566,519.286 483.473,502.518 491.593,512.407 463.686,529.175 470.663,517.528" fill="#2662c2" />
<polygon points="476.841,465.058 446.787,483.117 436.562,490.246 445.559,505.219 456.654,499.538 486.708,481.48" fill="#1f58b6" stroke="#14449c" stroke-width="2.4" stroke-linejoin="round"/>
<polygon points="447.921,485.223 437.623,492.153 465.53,475.385 472.28,486.619 444.373,503.387 455.326,497.548" fill="#2865c5" />
<g transform="rotate(-32.2 497.7 463.7)"><ellipse cx="497.7" cy="463.7" rx="55" ry="99.9" fill="#2460c0"/></g>
<path d="M936,505 L961,503 L961,511 L936,513 Z" fill="#0d0d0d" />
<polygon points="958,508 964,506 964,512" fill="#ffffff" />
<polygon points="748,537 828,493 834,498 905,447 935,462 935,585 851,628 848,637 773,680 763,673" fill="#fb7c1e" />
<polygon points="748,537 828,493 834,498 905,447 935,462 925,470 905,458 836,508 828,503 760,541" fill="#ff8a2e" />
<polygon points="925,470 935,462 935,585 924,579" fill="#fd8328" />
<polygon points="765,549 828,512 836,517 921,470 924,577 849,616 846,625 777,665" fill="#f8781b" />
<polygon points="765,549 828,512 836,517 921,470 921.5,476 836,523 828,518 770,552 781,662 777,665" fill="#e96a11" />
<ellipse cx="821" cy="551.7" rx="13" ry="16.2" transform="rotate(25 821 551.7)" fill="#ff8c33" />
<ellipse cx="821.8" cy="552.9" rx="7.4" ry="11.2" transform="rotate(25 821.8 552.9)" fill="#e0610c" />
<ellipse cx="823" cy="554.5" rx="4.8" ry="7.6" transform="rotate(25 823 554.5)" fill="#f0731b" />
<ellipse cx="878" cy="520" rx="13" ry="16.2" transform="rotate(25 878 520)" fill="#ff8c33" />
<ellipse cx="878.8" cy="521.2" rx="7.4" ry="11.2" transform="rotate(25 878.8 521.2)" fill="#e0610c" />
<ellipse cx="880" cy="522.8" rx="4.8" ry="7.6" transform="rotate(25 880 522.8)" fill="#f0731b" />
<ellipse cx="904.7" cy="536.7" rx="13" ry="16.2" transform="rotate(25 904.7 536.7)" fill="#ff8c33" />
<ellipse cx="905.5" cy="537.9" rx="7.4" ry="11.2" transform="rotate(25 905.5 537.9)" fill="#e0610c" />
<ellipse cx="906.7" cy="539.5" rx="4.8" ry="7.6" transform="rotate(25 906.7 539.5)" fill="#f0731b" />
<ellipse cx="848" cy="568.3" rx="13" ry="16.2" transform="rotate(25 848 568.3)" fill="#ff8c33" />
<ellipse cx="848.8" cy="569.5" rx="7.4" ry="11.2" transform="rotate(25 848.8 569.5)" fill="#e0610c" />
<ellipse cx="850" cy="571.1" rx="4.8" ry="7.6" transform="rotate(25 850 571.1)" fill="#f0731b" />
<ellipse cx="876" cy="583" rx="13" ry="16.2" transform="rotate(25 876 583)" fill="#ff8c33" />
<ellipse cx="876.8" cy="584.2" rx="7.4" ry="11.2" transform="rotate(25 876.8 584.2)" fill="#e0610c" />
<ellipse cx="878" cy="585.8" rx="4.8" ry="7.6" transform="rotate(25 878 585.8)" fill="#f0731b" />
<ellipse cx="793" cy="596.7" rx="13" ry="16.2" transform="rotate(25 793 596.7)" fill="#ff8c33" />
<ellipse cx="793.8" cy="597.9" rx="7.4" ry="11.2" transform="rotate(25 793.8 597.9)" fill="#e0610c" />
<ellipse cx="795" cy="599.5" rx="4.8" ry="7.6" transform="rotate(25 795 599.5)" fill="#f0731b" />
<ellipse cx="821" cy="615" rx="13" ry="16.2" transform="rotate(25 821 615)" fill="#ff8c33" />
<ellipse cx="821.8" cy="616.2" rx="7.4" ry="11.2" transform="rotate(25 821.8 616.2)" fill="#e0610c" />
<ellipse cx="823" cy="617.8" rx="4.8" ry="7.6" transform="rotate(25 823 617.8)" fill="#f0731b" />
<polygon points="268,270 290.6,309.311 700,548.085 727,540 749.3,547 763.2,562 767.4,583 767.4,658.2 760.4,672 743.7,683.2 727,683.2 715.9,677.7 690.8,661 682.5,661 635.2,630.3 582.3,599.7 576.7,591.4 500,555 420,510 366.2,480 356.6,468 325.3,456 308.5,436.8 301.3,439.2 291.7,432 270,400" fill="#1d1d1d" />
<polygon points="280,318 317.4,331 364.7,357 426,393 540,464.205 700,557.085 727,563.5 736,572 738.2,582 738.2,652.6 734,662 727,666.5 710.3,669.3 700,664 690.8,652.6 300,424.109 280,412.369" fill="#111111" />
<path d="M282.3,331.9 L282.3,396.3" fill="none" stroke="#2d2d2d" stroke-width="4.4"/>
<path d="M309.6,379.8 L282.3,331.9" fill="none" stroke="#2d2d2d" stroke-width="4.4"/>
<path d="M309.6,379.8 L336.9,363.4" fill="none" stroke="#2d2d2d" stroke-width="4.4"/>
<path d="M309.6,379.8 L282.3,396.3" fill="none" stroke="#2d2d2d" stroke-width="4.4"/>
<path d="M309.6,379.8 L336.9,427.8" fill="none" stroke="#2d2d2d" stroke-width="4.4"/>
<path d="M282.3,331.9 L286.3,309.9" fill="none" stroke="#2d2d2d" stroke-width="4.4"/>
<path d="M282.3,396.3 L279.3,416.3" fill="none" stroke="#2d2d2d" stroke-width="4.4"/>
<path d="M336.9,363.4 L336.9,427.8" fill="none" stroke="#2d2d2d" stroke-width="4.4"/>
<path d="M364.2,411.3 L336.9,363.4" fill="none" stroke="#2d2d2d" stroke-width="4.4"/>
<path d="M364.2,411.3 L391.5,394.9" fill="none" stroke="#2d2d2d" stroke-width="4.4"/>
<path d="M364.2,411.3 L336.9,427.8" fill="none" stroke="#2d2d2d" stroke-width="4.4"/>
<path d="M364.2,411.3 L391.5,459.3" fill="none" stroke="#2d2d2d" stroke-width="4.4"/>
<path d="M336.9,363.4 L340.9,341.4" fill="none" stroke="#2d2d2d" stroke-width="4.4"/>
<path d="M336.9,427.8 L333.9,447.8" fill="none" stroke="#2d2d2d" stroke-width="4.4"/>
<path d="M391.5,394.9 L391.5,459.3" fill="none" stroke="#2d2d2d" stroke-width="4.4"/>
<path d="M418.8,442.8 L391.5,394.9" fill="none" stroke="#2d2d2d" stroke-width="4.4"/>
<path d="M418.8,442.8 L446.1,426.4" fill="none" stroke="#2d2d2d" stroke-width="4.4"/>
<path d="M418.8,442.8 L391.5,459.3" fill="none" stroke="#2d2d2d" stroke-width="4.4"/>
<path d="M418.8,442.8 L446.1,490.8" fill="none" stroke="#2d2d2d" stroke-width="4.4"/>
<path d="M391.5,394.9 L395.5,372.9" fill="none" stroke="#2d2d2d" stroke-width="4.4"/>
<path d="M391.5,459.3 L388.5,479.3" fill="none" stroke="#2d2d2d" stroke-width="4.4"/>
<path d="M446.1,426.4 L446.1,490.8" fill="none" stroke="#2d2d2d" stroke-width="4.4"/>
<path d="M473.4,474.3 L446.1,426.4" fill="none" stroke="#2d2d2d" stroke-width="4.4"/>
<path d="M473.4,474.3 L500.7,457.9" fill="none" stroke="#2d2d2d" stroke-width="4.4"/>
<path d="M473.4,474.3 L446.1,490.8" fill="none" stroke="#2d2d2d" stroke-width="4.4"/>
<path d="M473.4,474.3 L500.7,522.3" fill="none" stroke="#2d2d2d" stroke-width="4.4"/>
<path d="M446.1,426.4 L450.1,404.4" fill="none" stroke="#2d2d2d" stroke-width="4.4"/>
<path d="M446.1,490.8 L443.1,510.8" fill="none" stroke="#2d2d2d" stroke-width="4.4"/>
<path d="M500.7,457.9 L500.7,522.3" fill="none" stroke="#2d2d2d" stroke-width="4.4"/>
<path d="M528.0,505.8 L500.7,457.9" fill="none" stroke="#2d2d2d" stroke-width="4.4"/>
<path d="M528.0,505.8 L555.3,489.4" fill="none" stroke="#2d2d2d" stroke-width="4.4"/>
<path d="M528.0,505.8 L500.7,522.3" fill="none" stroke="#2d2d2d" stroke-width="4.4"/>
<path d="M528.0,505.8 L555.3,553.8" fill="none" stroke="#2d2d2d" stroke-width="4.4"/>
<path d="M500.7,457.9 L504.7,435.9" fill="none" stroke="#2d2d2d" stroke-width="4.4"/>
<path d="M500.7,522.3 L497.7,542.3" fill="none" stroke="#2d2d2d" stroke-width="4.4"/>
<path d="M555.3,489.4 L555.3,553.8" fill="none" stroke="#2d2d2d" stroke-width="4.4"/>
<path d="M582.6,537.4 L555.3,489.4" fill="none" stroke="#2d2d2d" stroke-width="4.4"/>
<path d="M582.6,537.4 L609.9,520.9" fill="none" stroke="#2d2d2d" stroke-width="4.4"/>
<path d="M582.6,537.4 L555.3,553.8" fill="none" stroke="#2d2d2d" stroke-width="4.4"/>
<path d="M582.6,537.4 L609.9,585.3" fill="none" stroke="#2d2d2d" stroke-width="4.4"/>
<path d="M555.3,489.4 L559.3,467.4" fill="none" stroke="#2d2d2d" stroke-width="4.4"/>
<path d="M555.3,553.8 L552.3,573.8" fill="none" stroke="#2d2d2d" stroke-width="4.4"/>
<path d="M609.9,520.9 L609.9,585.3" fill="none" stroke="#2d2d2d" stroke-width="4.4"/>
<path d="M637.2,568.9 L609.9,520.9" fill="none" stroke="#2d2d2d" stroke-width="4.4"/>
<path d="M637.2,568.9 L664.5,552.4" fill="none" stroke="#2d2d2d" stroke-width="4.4"/>
<path d="M637.2,568.9 L609.9,585.3" fill="none" stroke="#2d2d2d" stroke-width="4.4"/>
<path d="M637.2,568.9 L664.5,616.8" fill="none" stroke="#2d2d2d" stroke-width="4.4"/>
<path d="M609.9,520.9 L613.9,498.9" fill="none" stroke="#2d2d2d" stroke-width="4.4"/>
<path d="M609.9,585.3 L606.9,605.3" fill="none" stroke="#2d2d2d" stroke-width="4.4"/>
<path d="M664.5,552.4 L664.5,616.8" fill="none" stroke="#2d2d2d" stroke-width="4.4"/>
<path d="M691.8,600.4 L664.5,552.4" fill="none" stroke="#2d2d2d" stroke-width="4.4"/>
<path d="M691.8,600.4 L719.1,583.9" fill="none" stroke="#2d2d2d" stroke-width="4.4"/>
<path d="M691.8,600.4 L664.5,616.8" fill="none" stroke="#2d2d2d" stroke-width="4.4"/>
<path d="M691.8,600.4 L719.1,648.3" fill="none" stroke="#2d2d2d" stroke-width="4.4"/>
<path d="M664.5,552.4 L668.5,530.4" fill="none" stroke="#2d2d2d" stroke-width="4.4"/>
<path d="M664.5,616.8 L661.5,636.8" fill="none" stroke="#2d2d2d" stroke-width="4.4"/>
<path d="M719.1,583.9 L719.1,648.3" fill="none" stroke="#2d2d2d" stroke-width="4.4"/>
<ellipse cx="282.3" cy="331.9" rx="10.5" ry="13.5" transform="rotate(-8 282.3 331.9)" fill="#2d2d2d" />
<ellipse cx="282.8" cy="332.4" rx="7" ry="9.5" transform="rotate(-8 282.8 332.4)" fill="#0b0b0b" />
<ellipse cx="282.3" cy="396.3" rx="10.5" ry="13.5" transform="rotate(-8 282.3 396.3)" fill="#2d2d2d" />
<ellipse cx="282.8" cy="396.8" rx="7" ry="9.5" transform="rotate(-8 282.8 396.8)" fill="#0b0b0b" />
<ellipse cx="309.6" cy="379.85" rx="10.5" ry="13.5" transform="rotate(-8 309.6 379.85)" fill="#2d2d2d" />
<ellipse cx="310.1" cy="380.35" rx="7" ry="9.5" transform="rotate(-8 310.1 380.35)" fill="#0b0b0b" />
<ellipse cx="364.2" cy="411.35" rx="10.5" ry="13.5" transform="rotate(-8 364.2 411.35)" fill="#2d2d2d" />
<ellipse cx="364.7" cy="411.85" rx="7" ry="9.5" transform="rotate(-8 364.7 411.85)" fill="#0b0b0b" />
<ellipse cx="391.5" cy="394.9" rx="10.5" ry="13.5" transform="rotate(-8 391.5 394.9)" fill="#2d2d2d" />
<ellipse cx="392" cy="395.4" rx="7" ry="9.5" transform="rotate(-8 392 395.4)" fill="#0b0b0b" />
<ellipse cx="391.5" cy="459.3" rx="10.5" ry="13.5" transform="rotate(-8 391.5 459.3)" fill="#2d2d2d" />
<ellipse cx="392" cy="459.8" rx="7" ry="9.5" transform="rotate(-8 392 459.8)" fill="#0b0b0b" />
<ellipse cx="418.8" cy="442.85" rx="10.5" ry="13.5" transform="rotate(-8 418.8 442.85)" fill="#2d2d2d" />
<ellipse cx="419.3" cy="443.35" rx="7" ry="9.5" transform="rotate(-8 419.3 443.35)" fill="#0b0b0b" />
<ellipse cx="446.1" cy="426.4" rx="10.5" ry="13.5" transform="rotate(-8 446.1 426.4)" fill="#2d2d2d" />
<ellipse cx="446.6" cy="426.9" rx="7" ry="9.5" transform="rotate(-8 446.6 426.9)" fill="#0b0b0b" />
<ellipse cx="446.1" cy="490.8" rx="10.5" ry="13.5" transform="rotate(-8 446.1 490.8)" fill="#2d2d2d" />
<ellipse cx="446.6" cy="491.3" rx="7" ry="9.5" transform="rotate(-8 446.6 491.3)" fill="#0b0b0b" />
<ellipse cx="473.4" cy="474.35" rx="10.5" ry="13.5" transform="rotate(-8 473.4 474.35)" fill="#2d2d2d" />
<ellipse cx="473.9" cy="474.85" rx="7" ry="9.5" transform="rotate(-8 473.9 474.85)" fill="#0b0b0b" />
<ellipse cx="500.7" cy="457.9" rx="10.5" ry="13.5" transform="rotate(-8 500.7 457.9)" fill="#2d2d2d" />
<ellipse cx="501.2" cy="458.4" rx="7" ry="9.5" transform="rotate(-8 501.2 458.4)" fill="#0b0b0b" />
<ellipse cx="500.7" cy="522.3" rx="10.5" ry="13.5" transform="rotate(-8 500.7 522.3)" fill="#2d2d2d" />
<ellipse cx="501.2" cy="522.8" rx="7" ry="9.5" transform="rotate(-8 501.2 522.8)" fill="#0b0b0b" />
<ellipse cx="528" cy="505.85" rx="10.5" ry="13.5" transform="rotate(-8 528 505.85)" fill="#2d2d2d" />
<ellipse cx="528.5" cy="506.35" rx="7" ry="9.5" transform="rotate(-8 528.5 506.35)" fill="#0b0b0b" />
<ellipse cx="555.3" cy="489.4" rx="10.5" ry="13.5" transform="rotate(-8 555.3 489.4)" fill="#2d2d2d" />
<ellipse cx="555.8" cy="489.9" rx="7" ry="9.5" transform="rotate(-8 555.8 489.9)" fill="#0b0b0b" />
<ellipse cx="555.3" cy="553.8" rx="10.5" ry="13.5" transform="rotate(-8 555.3 553.8)" fill="#2d2d2d" />
<ellipse cx="555.8" cy="554.3" rx="7" ry="9.5" transform="rotate(-8 555.8 554.3)" fill="#0b0b0b" />
<ellipse cx="582.6" cy="537.35" rx="10.5" ry="13.5" transform="rotate(-8 582.6 537.35)" fill="#2d2d2d" />
<ellipse cx="583.1" cy="537.85" rx="7" ry="9.5" transform="rotate(-8 583.1 537.85)" fill="#0b0b0b" />
<ellipse cx="609.9" cy="520.9" rx="10.5" ry="13.5" transform="rotate(-8 609.9 520.9)" fill="#2d2d2d" />
<ellipse cx="610.4" cy="521.4" rx="7" ry="9.5" transform="rotate(-8 610.4 521.4)" fill="#0b0b0b" />
<ellipse cx="609.9" cy="585.3" rx="10.5" ry="13.5" transform="rotate(-8 609.9 585.3)" fill="#2d2d2d" />
<ellipse cx="610.4" cy="585.8" rx="7" ry="9.5" transform="rotate(-8 610.4 585.8)" fill="#0b0b0b" />
<ellipse cx="637.2" cy="568.85" rx="10.5" ry="13.5" transform="rotate(-8 637.2 568.85)" fill="#2d2d2d" />
<ellipse cx="637.7" cy="569.35" rx="7" ry="9.5" transform="rotate(-8 637.7 569.35)" fill="#0b0b0b" />
<ellipse cx="664.5" cy="552.4" rx="10.5" ry="13.5" transform="rotate(-8 664.5 552.4)" fill="#2d2d2d" />
<ellipse cx="665" cy="552.9" rx="7" ry="9.5" transform="rotate(-8 665 552.9)" fill="#0b0b0b" />
<ellipse cx="664.5" cy="616.8" rx="10.5" ry="13.5" transform="rotate(-8 664.5 616.8)" fill="#2d2d2d" />
<ellipse cx="665" cy="617.3" rx="7" ry="9.5" transform="rotate(-8 665 617.3)" fill="#0b0b0b" />
<ellipse cx="691.8" cy="600.35" rx="10.5" ry="13.5" transform="rotate(-8 691.8 600.35)" fill="#2d2d2d" />
<ellipse cx="692.3" cy="600.85" rx="7" ry="9.5" transform="rotate(-8 692.3 600.85)" fill="#0b0b0b" />
<path d="M700,548.1 L727,540 L749.3,547 L763.2,562 L767.4,583 L767.4,640 L738.2,640 L738.2,582 L736,572 L727,563.5 L700,557.1 Z" fill="#2a2a2a" />
<polygon points="268,266.5 282.4,276.8 334,307.7 360.6,319.7 387.4,341.4 426.5,358.9 540,426.205 648,494.25 690.8,535.7 705,533 727,536 740,541 727,545 700,550.085 648,521.25 540,457.205 426,385 395.3,367 364.7,349 317.4,322.7 307,320 290.6,315.6 272,300" fill="#282726" />
<path d="M333,306.5 L330,314.5 L311,326.5" fill="none" stroke="#141414" stroke-width="2.2"/>
<path d="M388,340.5 L385,348.5 L366,360.5" fill="none" stroke="#141414" stroke-width="2.2"/>
<path d="M603,467 L600,475 L581,487" fill="none" stroke="#141414" stroke-width="2.2"/>
<path d="M663,497 L660,505 L641,517" fill="none" stroke="#141414" stroke-width="2.2"/>
<ellipse cx="336.9" cy="363.4" rx="9.5" ry="12.5" transform="rotate(-8 336.9 363.4)" fill="#f47a20" />
<path d="M328.9,360.9 L345.4,367.9" fill="none" stroke="#c4560c" stroke-width="1.8"/>
<ellipse cx="336.9" cy="427.2" rx="9.5" ry="12.5" transform="rotate(-8 336.9 427.2)" fill="#f47a20" />
<path d="M328.9,424.7 L345.4,431.7" fill="none" stroke="#c4560c" stroke-width="1.8"/>
<ellipse cx="719.2" cy="583.6" rx="9.5" ry="12.5" transform="rotate(-8 719.2 583.6)" fill="#f47a20" />
<path d="M711.2,581.1 L727.7,588.1" fill="none" stroke="#c4560c" stroke-width="1.8"/>
<ellipse cx="719.2" cy="648.4" rx="9.5" ry="12.5" transform="rotate(-8 719.2 648.4)" fill="#f47a20" />
<path d="M711.2,645.9 L727.7,652.9" fill="none" stroke="#c4560c" stroke-width="1.8"/>
<path d="M360.035,433.847C358.9,441.3 359.5,450.1 360.976,459.254C362.4,468.4 365.9,479.2 368.771,488.484C371.7,497.7 374.1,506.1 378.493,514.735C382.9,523.3 389.0,531.9 395.026,540.021C401.0,548.1 407.6,556.4 414.584,563.491C421.5,570.6 429.4,577.8 436.769,582.782C444.1,587.7 451.2,590.7 458.612,593.228C466.0,595.8 473.9,597.6 481.192,597.933C488.5,598.3 495.6,597.7 502.227,595.189C508.8,592.7 515.8,587.2 520.757,583.145C525.7,579.1 529.8,578.1 532.175,570.848C534.6,563.6 534.5,544.9 535.021,539.547C535.5,534.2 534.1,544.1 535.097,539.019C536.1,534.0 539.7,518.3 541.039,509.312C542.3,500.3 543.4,491.5 542.938,485.094C542.5,478.7 541.2,477.4 538.362,470.908C535.5,464.4 530.8,453.9 525.753,445.981C520.7,438.0 514.0,430.3 508.139,423.181C502.3,416.0 496.7,409.3 490.453,403.038C484.2,396.8 477.2,390.5 470.599,385.52C464.0,380.6 457.4,376.1 451.023,373.262C444.6,370.4 438.8,369.0 432.054,368.565C425.3,368.2 417.2,368.9 410.439,370.875C403.7,372.8 397.1,376.4 391.562,380.406C386.0,384.4 381.1,389.1 377.127,394.748C373.1,400.4 370.4,407.9 367.587,414.4C364.7,420.9 361.1,426.4 360.035,433.847Z" fill="#1647a0" />
<polygon points="515.732,422.174 487.825,438.942 474.308,450.19 485.264,465.769 515.318,447.711 525.721,436.378" fill="#245ebe" stroke="#14449c" stroke-width="2.4" stroke-linejoin="round"/>
<polygon points="483.98,463.745 496.621,451.32 524.528,434.552 517.033,423.895 489.126,440.663 475.758,452.053" fill="#3170d3" />
<polygon points="533.544,449.411 518.633,453.233 488.579,471.291 497.172,488.284 513.472,481.674 541.379,464.906" fill="#225cbb" stroke="#14449c" stroke-width="2.4" stroke-linejoin="round"/>
<polygon points="496.21,486.13 512.565,479.717 540.472,462.948 534.594,451.324 506.687,468.092 489.761,473.376" fill="#2e6cce" />
<polygon points="494.855,398.75 466.948,415.518 457.748,432.224 470.319,445.327 500.373,427.269 506.318,410.697" fill="#2560c0" stroke="#14449c" stroke-width="2.4" stroke-linejoin="round"/>
<polygon points="468.801,443.571 477.011,425.895 504.918,409.126 496.318,400.163 468.411,416.931 459.365,433.737" fill="#3272d5" />
<polygon points="529.64,476.032 499.586,494.09 505.232,511.339 524.317,511.103 552.224,494.335 547.076,478.607" fill="#215ab9" stroke="#14449c" stroke-width="2.4" stroke-linejoin="round"/>
<polygon points="504.658,509.201 523.759,509.148 551.666,492.38 547.804,480.58 519.897,497.348 500.421,496.255" fill="#2b69ca" />
<polygon points="472.335,380.737 444.428,397.505 440.025,418.618 453.356,428.352 483.41,410.294 484.49,389.612" fill="#2560c0" stroke="#14449c" stroke-width="2.4" stroke-linejoin="round"/>
<polygon points="451.706,426.985 455.074,405.172 482.981,388.404 473.861,381.745 445.954,398.513 441.701,419.679" fill="#3373d6" />
<polygon points="536.635,498.974 506.581,517.033 508.893,533.363 529.609,539.429 557.516,522.661 555.408,507.771" fill="#1f58b7" stroke="#14449c" stroke-width="2.4" stroke-linejoin="round"/>
<polygon points="508.746,531.387 529.438,537.61 557.345,520.841 555.763,509.67 527.856,526.438 507.011,519.131" fill="#2966c7" />
<polygon points="449.708,369.361 421.801,386.13 422.349,410.299 435.53,416.001 465.584,397.943 461.727,374.56" fill="#2560c0" stroke="#14449c" stroke-width="2.4" stroke-linejoin="round"/>
<polygon points="433.861,415.115 432.303,390.565 460.21,373.797 451.193,369.897 423.286,386.665 423.968,410.835" fill="#3373d6" />
<polygon points="539.139,520.497 509.086,538.556 507.908,552.853 528.989,564.721 556.896,547.953 557.97,534.916" fill="#1f57b6" stroke="#14449c" stroke-width="2.4" stroke-linejoin="round"/>
<polygon points="508.198,551.174 529.216,563.161 557.124,546.393 557.929,536.612 530.022,553.38 509.082,540.443" fill="#2864c5" />
<polygon points="428.515,365.399 400.608,382.168 405.923,407.834 418.057,409.115 448.11,391.057 439.579,366.567" fill="#2560c0" stroke="#14449c" stroke-width="2.4" stroke-linejoin="round"/>
<polygon points="416.483,408.771 410.251,383.069 438.158,366.301 429.857,365.425 401.95,382.193 407.376,407.809" fill="#3373d5" />
<polygon points="536.984,539.134 506.93,557.192 502.342,568.483 522.499,585.255 550.406,568.487 554.589,558.192" fill="#1e57b5" stroke="#14449c" stroke-width="2.4" stroke-linejoin="round"/>
<polygon points="503.049,567.215 523.109,584.061 551.016,567.293 554.155,559.569 526.248,576.337 506.493,558.741" fill="#2763c3" />
<polygon points="419.555,366.178 410.201,369.121 382.294,385.889 391.867,411.391 402.126,408.164 432.18,390.106" fill="#255fbf" stroke="#14449c" stroke-width="2.4" stroke-linejoin="round"/>
<polygon points="400.754,408.385 390.42,383.195 418.327,366.427 411.309,368.635 383.402,385.403 393.054,410.807" fill="#3272d5" />
<polygon points="530.315,553.614 500.261,571.672 492.576,579.187 510.58,599.633 538.487,582.865 545.495,576.012" fill="#1e56b4" stroke="#14449c" stroke-width="2.4" stroke-linejoin="round"/>
<polygon points="493.652,578.417 511.532,598.886 539.439,582.118 544.696,576.977 516.789,593.745 499.42,572.776" fill="#2662c2" />
<polygon points="403.02,373.419 375.113,390.187 368.106,397.04 381.139,420.728 411.193,402.67 418.878,395.155" fill="#245fbf" stroke="#14449c" stroke-width="2.4" stroke-linejoin="round"/>
<polygon points="387.748,413.983 374.162,390.934 402.069,374.166 396.811,379.307 368.904,396.075 381.98,419.624" fill="#3271d4" />
<polygon points="519.587,562.95 509.328,566.178 479.274,584.236 494.045,606.874 503.4,603.931 531.307,587.163" fill="#1d56b4" stroke="#14449c" stroke-width="2.4" stroke-linejoin="round"/>
<polygon points="480.646,584.015 495.273,606.625 523.18,589.857 530.199,587.649 502.292,604.417 488.346,581.593" fill="#2661c1" />
<polygon points="391.102,387.797 363.195,404.565 359.011,414.86 374.47,435.208 404.524,417.15 409.112,405.859" fill="#245ebe" stroke="#14449c" stroke-width="2.4" stroke-linejoin="round"/>
<polygon points="378.351,425.185 362.585,405.759 390.492,388.991 387.353,396.715 359.446,413.483 374.907,433.659" fill="#3170d3" />
<polygon points="493.397,565.227 463.343,583.285 474.022,606.485 485.085,607.653 512.992,590.884 505.531,566.508" fill="#1d55b3" stroke="#14449c" stroke-width="2.4" stroke-linejoin="round"/>
<polygon points="464.917,583.629 475.443,606.751 503.35,589.983 511.65,590.859 483.743,607.627 474.024,584.591" fill="#2560c1" />
<polygon points="384.611,408.331 356.704,425.099 355.63,438.136 372.314,453.844 402.368,435.786 403.546,421.488" fill="#235ebd" stroke="#14449c" stroke-width="2.4" stroke-linejoin="round"/>
<polygon points="373.202,441.226 356.477,426.659 384.384,409.891 383.578,419.672 355.671,436.44 372.318,451.957" fill="#306fd1" />
<polygon points="475.924,558.341 445.87,576.399 451.873,598.492 463.892,603.691 491.799,586.922 489.105,564.043" fill="#1d55b3" stroke="#14449c" stroke-width="2.4" stroke-linejoin="round"/>
<polygon points="447.539,577.285 453.39,599.255 481.297,582.487 490.315,586.387 462.408,603.155 457.432,581.565" fill="#2560c0" />
<polygon points="383.991,433.623 356.084,450.391 358.193,465.281 374.819,475.367 404.873,457.309 402.56,440.979" fill="#235dbc" stroke="#14449c" stroke-width="2.4" stroke-linejoin="round"/>
<polygon points="372.654,461.013 356.255,452.211 384.162,435.442 385.744,446.614 357.837,463.382 374.389,473.269" fill="#2f6dcf" />
<polygon points="458.098,545.99 428.044,564.048 429.11,583.44 441.265,592.315 469.172,575.547 471.429,555.724" fill="#1d55b3" stroke="#14449c" stroke-width="2.4" stroke-linejoin="round"/>
<polygon points="429.694,565.415 430.62,584.648 458.527,567.88 467.646,574.539 439.739,591.307 439.699,572.721" fill="#2560c0" />
<polygon points="389.284,461.949 361.377,478.717 366.524,494.445 381.814,498.31 411.867,480.252 406.222,463.003" fill="#215bba" stroke="#14449c" stroke-width="2.4" stroke-linejoin="round"/>
<polygon points="376.742,483.199 361.935,480.672 389.842,463.904 393.704,475.704 365.797,492.472 380.979,496.145" fill="#2d6acc" />
<polygon points="441.134,529.015 411.081,547.073 407.283,562.355 418.746,574.302 446.653,557.534 453.706,542.118" fill="#1d55b3" stroke="#14449c" stroke-width="2.4" stroke-linejoin="round"/>
<polygon points="412.599,548.829 408.682,563.926 436.589,547.157 445.189,556.121 417.282,572.889 422.035,558.663" fill="#2661c1" />
<polygon points="414.281,486.058 400.128,491.378 372.221,508.146 380.057,523.641 392.821,521.109 422.875,503.051" fill="#2059b8" stroke="#14449c" stroke-width="2.4" stroke-linejoin="round"/>
<polygon points="385.19,506.27 373.128,510.104 401.035,493.335 406.914,504.96 379.007,521.729 391.639,519.024" fill="#2a67c8" />
<polygon points="426.189,508.573 396.136,526.631 387.879,536.674 397.869,550.879 425.776,534.11 437.145,524.152" fill="#1e57b5" stroke="#14449c" stroke-width="2.4" stroke-linejoin="round"/>
<polygon points="397.42,528.655 389.073,538.5 416.98,521.732 424.475,532.389 396.568,549.157 405.642,540.347" fill="#2763c3" />
<g transform="rotate(-32.2 440.7 496.2)">
<ellipse cx="440.7" cy="496.2" rx="55" ry="99.9" fill="#2e6ccc"/>
<ellipse cx="441.7" cy="496.2" rx="47" ry="88" fill="#1c53b0"/>
<ellipse cx="445.7" cy="497.2" rx="41" ry="80" fill="#2259b8"/>
</g>
<path d="M446,487 L449,440.8" fill="none" stroke="#2c69c9" stroke-width="5"/>
<path d="M446,487 L411.8,465" fill="none" stroke="#2c69c9" stroke-width="5"/>
<path d="M446,487 L488.6,504.4" fill="none" stroke="#2c69c9" stroke-width="5"/>
<path d="M446,487 L451.3,530.8" fill="none" stroke="#2c69c9" stroke-width="5"/>
<path d="M449,440.8 L411.8,465" fill="none" stroke="#2c69c9" stroke-width="4"/>
<path d="M449,440.8 L488.6,504.4" fill="none" stroke="#2c69c9" stroke-width="4"/>
<path d="M411.8,465 L451.3,530.8" fill="none" stroke="#2c69c9" stroke-width="4"/>
<path d="M488.6,504.4 L451.3,530.8" fill="none" stroke="#2c69c9" stroke-width="4"/>
<ellipse cx="449" cy="440.8" rx="12.5" ry="15.5" transform="rotate(-25 449 440.8)" fill="#2c69c9" />
<ellipse cx="449.5" cy="441.3" rx="8.2" ry="11" transform="rotate(-25 449.5 441.3)" fill="#164aa3" />
<ellipse cx="411.8" cy="465" rx="12.5" ry="15.5" transform="rotate(-25 411.8 465)" fill="#2c69c9" />
<ellipse cx="412.3" cy="465.5" rx="8.2" ry="11" transform="rotate(-25 412.3 465.5)" fill="#164aa3" />
<ellipse cx="488.6" cy="504.4" rx="12.5" ry="15.5" transform="rotate(-25 488.6 504.4)" fill="#2c69c9" />
<ellipse cx="489.1" cy="504.9" rx="8.2" ry="11" transform="rotate(-25 489.1 504.9)" fill="#164aa3" />
<ellipse cx="451.3" cy="530.8" rx="12.5" ry="15.5" transform="rotate(-25 451.3 530.8)" fill="#2c69c9" />
<ellipse cx="451.8" cy="531.3" rx="8.2" ry="11" transform="rotate(-25 451.8 531.3)" fill="#164aa3" />
<ellipse cx="446" cy="487" rx="17" ry="21" transform="rotate(-25 446 487)" fill="#2c69c9" />
<ellipse cx="447" cy="487" rx="11" ry="14" transform="rotate(-25 447 487)" fill="#1b50ab" />
<ellipse cx="449" cy="486" rx="6" ry="8.5" transform="rotate(-25 449 486)" fill="#0f2f6a" />
<polygon points="383,519.5 444,480 450,492 390,533.5" fill="url(#gshaft)" />
<path d="M520.8,548.3C519.5,540.6 520.8,528.0 524,521.4C527.2,514.8 535.3,511.6 539.8,508.7C544.3,505.8 546.1,505.8 550.9,504C555.6,502.2 564.1,497.7 568.3,497.7C572.5,497.7 574.4,500.3 576.2,504C578.1,507.7 576.5,517.8 579.4,519.8C582.3,521.8 590.4,515.4 593.6,515.9C596.8,516.4 597.6,519.7 598.4,523C599.2,526.3 596.8,532.0 598.4,535.7C600.0,539.4 605.8,542.6 607.9,545.2C610.0,547.8 611.8,548.3 611,551.5C610.2,554.7 603.6,560.2 603.1,564.2C602.6,568.2 608.4,571.5 607.9,575.2C607.4,578.9 604.5,583.7 600,586.3C595.5,588.9 586.3,589.7 581,591C575.7,592.3 572.0,593.4 568.3,594.2C564.6,595.0 562.0,596.8 558.8,595.8C555.6,594.8 553.3,590.8 549.3,587.9C545.3,585.0 537.9,581.8 535,578.4C532.1,575.0 534.4,572.3 532,567.3C529.6,562.3 522.1,555.9 520.8,548.3Z" fill="#cf2c36" />
<path d="M533.5,540.4 L527.2,526" fill="none" stroke="#eb3741" stroke-width="8" stroke-linecap="round"/>
<path d="M533.5,539.1999999999999 L527.2,524.8" fill="none" stroke="#f2444d" stroke-width="4.4" stroke-linecap="round"/>
<path d="M530.3,554.7 L524,550.5" fill="none" stroke="#eb3741" stroke-width="8" stroke-linecap="round"/>
<path d="M530.3,553.5 L524,549.3" fill="none" stroke="#f2444d" stroke-width="4.4" stroke-linecap="round"/>
<path d="M541.4,537.2 L536,518.5" fill="none" stroke="#eb3741" stroke-width="10" stroke-linecap="round"/>
<path d="M541.4,536.0 L536,517.3" fill="none" stroke="#f2444d" stroke-width="5.5" stroke-linecap="round"/>
<path d="M552.5,540.4 L567,507.5" fill="none" stroke="#eb3741" stroke-width="15" stroke-linecap="round"/>
<path d="M552.5,539.1999999999999 L567,506.3" fill="none" stroke="#f2444d" stroke-width="8.2" stroke-linecap="round"/>
<path d="M563.6,548.3 L589,525" fill="none" stroke="#eb3741" stroke-width="13.5" stroke-linecap="round"/>
<path d="M563.6,547.0999999999999 L589,523.8" fill="none" stroke="#f2444d" stroke-width="7.4" stroke-linecap="round"/>
<path d="M565.2,559.4 L602,552.5" fill="none" stroke="#eb3741" stroke-width="13.5" stroke-linecap="round"/>
<path d="M565.2,558.1999999999999 L602,551.3" fill="none" stroke="#f2444d" stroke-width="7.4" stroke-linecap="round"/>
<path d="M563.6,570.5 L598,578" fill="none" stroke="#eb3741" stroke-width="12.5" stroke-linecap="round"/>
<path d="M563.6,569.3 L598,576.8" fill="none" stroke="#f2444d" stroke-width="6.9" stroke-linecap="round"/>
<path d="M555.7,580 L577,587.5" fill="none" stroke="#eb3741" stroke-width="11" stroke-linecap="round"/>
<path d="M555.7,578.8 L577,586.3" fill="none" stroke="#f2444d" stroke-width="6.1" stroke-linecap="round"/>
<path d="M544.6,579 L556.5,590.5" fill="none" stroke="#eb3741" stroke-width="9" stroke-linecap="round"/>
<path d="M544.6,577.8 L556.5,589.3" fill="none" stroke="#f2444d" stroke-width="5.0" stroke-linecap="round"/>
<path d="M534,570 L536,576" fill="none" stroke="#eb3741" stroke-width="8" stroke-linecap="round"/>
<path d="M534,568.8 L536,574.8" fill="none" stroke="#f2444d" stroke-width="4.4" stroke-linecap="round"/>
<ellipse cx="546.2" cy="558.6" rx="15" ry="18.5" transform="rotate(-20 546.2 558.6)" fill="#ea3640" />
<ellipse cx="546.6" cy="559" rx="9.6" ry="12.6" transform="rotate(-20 546.6 559)" fill="#cc2831" />
<path d="M12,317C12.0,307.7 14.0,296.5 17,287C20.0,277.5 24.5,268.3 30,260C35.5,251.7 41.2,245.3 50,237C58.8,228.7 71.8,217.5 83,210C94.2,202.5 105.8,196.5 117,192C128.2,187.5 139.0,183.7 150,183C161.0,182.3 171.8,183.8 183,188C194.2,192.2 205.8,199.3 217,208C228.2,216.7 240.0,228.5 250,240C260.0,251.5 270.2,265.0 277,277C283.8,289.0 287.7,300.7 291,312C294.3,323.3 295.7,335.0 297,345C298.3,355.0 299.0,362.8 299,372C299.0,381.2 298.6,390.3 297,400C295.4,409.7 293.2,421.3 289.5,430C285.8,438.7 284.4,443.7 275,452C265.6,460.3 245.5,472.5 233,480C220.5,487.5 210.0,493.2 200,497C190.0,500.8 182.5,502.8 173,503C163.5,503.2 153.0,501.3 143,498C133.0,494.7 123.0,489.8 113,483C103.0,476.2 93.0,467.5 83,457C73.0,446.5 61.8,432.8 53,420C44.2,407.2 36.0,392.8 30,380C24.0,367.2 20.0,353.5 17,343C14.0,332.5 12.0,326.3 12,317Z" fill="url(#glw)" />
<g transform="rotate(-32.6 121.5 362.5)">
<ellipse cx="121.5" cy="362.5" rx="72" ry="124.6" fill="url(#gring)"/>
<path d="M191.9,388.4 L188.2,385.0" stroke="#3472d3" stroke-width="3.4" fill="none"/>
<path d="M175.0,445.9 L173.8,434.8" stroke="#3472d3" stroke-width="3.4" fill="none"/>
<path d="M143.7,481.0 L147.4,465.2" stroke="#3472d3" stroke-width="3.4" fill="none"/>
<path d="M106.5,484.4 L115.8,468.1" stroke="#3472d3" stroke-width="3.4" fill="none"/>
<path d="M73.3,455.1 L87.7,442.8" stroke="#3472d3" stroke-width="3.4" fill="none"/>
<path d="M53.0,401.0 L70.5,395.9" stroke="#3472d3" stroke-width="3.4" fill="none"/>
<path d="M51.1,336.6 L68.8,340.0" stroke="#3472d3" stroke-width="3.4" fill="none"/>
<path d="M68.0,279.1 L83.2,290.2" stroke="#3472d3" stroke-width="3.4" fill="none"/>
<path d="M99.3,244.0 L109.6,259.8" stroke="#3472d3" stroke-width="3.4" fill="none"/>
<path d="M136.5,240.6 L141.2,256.9" stroke="#3472d3" stroke-width="3.4" fill="none"/>
<path d="M169.7,269.9 L169.3,282.2" stroke="#3472d3" stroke-width="3.4" fill="none"/>
<path d="M190.0,324.0 L186.5,329.1" stroke="#3472d3" stroke-width="3.4" fill="none"/>
</g>
<g transform="rotate(-32 135 354)">
<ellipse cx="135" cy="354" rx="58" ry="106" fill="#2761bf"/>
</g>
<g transform="rotate(-32 142 350)">
<ellipse cx="142" cy="350" rx="53" ry="96" fill="url(#gcav)"/>
</g>
<g transform="rotate(-32 165 345)">
<ellipse cx="165" cy="345" rx="39" ry="76" fill="url(#ghub)"/>
</g>
<ellipse cx="119.7" cy="291.9" rx="10" ry="14" transform="rotate(-25 119.7 291.9)" fill="#3170d0" />
<ellipse cx="120.7" cy="292.4" rx="6.2" ry="9.5" transform="rotate(-25 120.7 292.4)" fill="#1a4fa9" />
<ellipse cx="172.9" cy="389.4" rx="10" ry="14" transform="rotate(-25 172.9 389.4)" fill="#3170d0" />
<ellipse cx="173.9" cy="389.9" rx="6.2" ry="9.5" transform="rotate(-25 173.9 389.9)" fill="#1a4fa9" />
<ellipse cx="199" cy="383" rx="6" ry="11" transform="rotate(-25 199 383)" fill="#1a4fa9" />
<path d="M129,330C129.0,324.0 130.2,319.5 133,316C135.8,312.5 141.2,310.5 146,309C150.8,307.5 156.7,305.8 162,307C167.3,308.2 173.3,311.2 178,316C182.7,320.8 187.2,329.0 190,336C192.8,343.0 194.7,352.0 195,358C195.3,364.0 194.5,368.7 192,372C189.5,375.3 185.3,377.0 180,378C174.7,379.0 166.0,379.3 160,378C154.0,376.7 148.5,374.3 144,370C139.5,365.7 135.5,358.7 133,352C130.5,345.3 129.0,336.0 129,330Z" fill="#151515" />
<path d="M131,332C131.3,327.7 133.2,322.5 136,320C138.8,317.5 144.3,315.7 148,317C151.7,318.3 156.0,322.8 158,328C160.0,333.2 160.7,342.7 160,348C159.3,353.3 157.0,358.3 154,360C151.0,361.7 145.3,360.3 142,358C138.7,355.7 135.8,350.3 134,346C132.2,341.7 130.7,336.3 131,332Z" fill="#2a2a2a" />
<polygon points="112,358 121.5,355.6 128.5,366 126,374 117,373" fill="#ffffff" />
<polygon points="120,357 146,341 153,355 128,371" fill="#2e5fb4" />
<ellipse cx="150" cy="346" rx="5" ry="8" transform="rotate(-25 150 346)" fill="#0c0c0c" />
<polygon points="375.8,526.3 319.2,521.3 343.4,572.8" fill="#13ad45" />
<path d="M263.3,571.7 L332,545" fill="none" stroke="#13ad45" stroke-width="8"/>
<polygon points="558.8,594 525.2,633.6 576.8,642.6" fill="#13ad45" />
<path d="M540.8,695.5 L550.2,638" fill="none" stroke="#13ad45" stroke-width="8"/>
</svg>
<div class="lbl" id="t1" style="left:0;top:570.4px;"><span style="left:92.73px;transform:scaleX(0.9365)">Spins</span> <span style="left:208.43px;transform:scaleX(0.9541)">Once</span></div>
<div class="lbl" id="t2" style="left:0;top:691.3px;"><span style="left:401.63px;transform:scaleX(0.9365)">Spins</span> <span style="left:516.9px;transform:scaleX(0.970)">Three</span> <span style="left:637.8px;transform:scaleX(0.9512)">Times</span></div>
</body></html>
